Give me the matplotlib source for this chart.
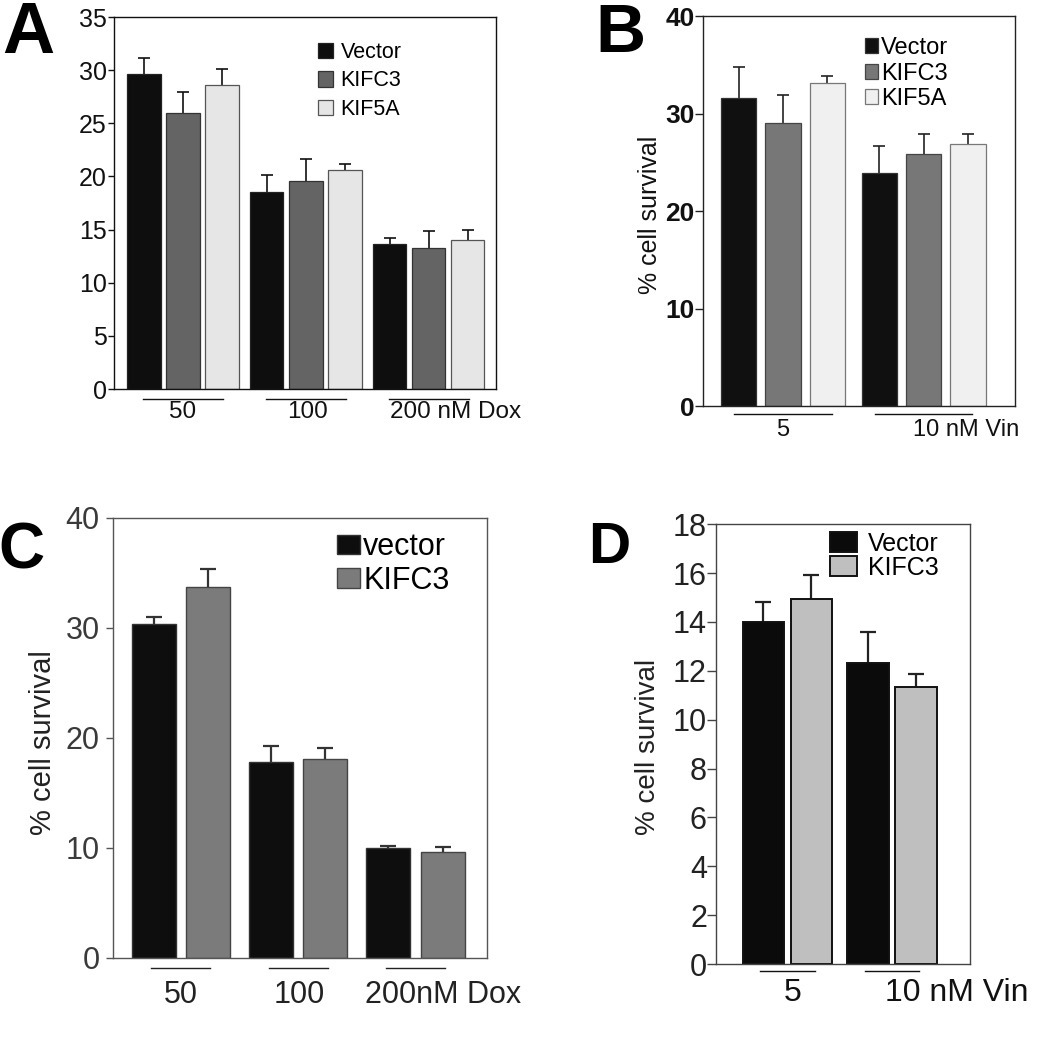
"""
Four-panel cell survival bar chart (Dox / Vin, Vector vs KIFC3 vs KIF5A).
Saves out.png.
"""

import numpy as np
import matplotlib
matplotlib.use("Agg")
import matplotlib.pyplot as plt

plt.rcParams["font.family"] = ["Liberation Sans", "DejaVu Sans"]

# --- Panel A: Dox, three constructs ---
a_groups = ["50", "100", "200 nM Dox"]
a_labels = ["Vector", "KIFC3", "KIF5A"]
a_vector = [29.6, 18.55, 13.65]
a_vector_err = [1.5, 1.55, 0.57]
a_kifc3 = [25.95, 19.55, 13.3]
a_kifc3_err = [2.0, 2.05, 1.56]
a_kif5a = [28.6, 20.6, 14.0]
a_kif5a_err = [1.55, 0.56, 1.0]
a_yticks = [0, 5, 10, 15, 20, 25, 30, 35]

# --- Panel B: Vin, three constructs ---
b_groups = ["5", "10 nM Vin"]
b_labels = ["Vector", "KIFC3", "KIF5A"]
b_vector = [31.6, 23.9]
b_vector_err = [3.2, 2.75]
b_kifc3 = [29.0, 25.9]
b_kifc3_err = [2.95, 2.0]
b_kif5a = [33.1, 26.9]
b_kif5a_err = [0.72, 1.0]
b_yticks = [0, 10, 20, 30, 40]

# --- Panel C: Dox, two constructs ---
c_groups = ["50", "100", "200nM Dox"]
c_labels = ["vector", "KIFC3"]
c_vector = [30.3, 17.8, 9.94]
c_vector_err = [0.65, 1.48, 0.24]
c_kifc3 = [33.7, 18.03, 9.58]
c_kifc3_err = [1.6, 1.03, 0.51]
c_yticks = [0, 10, 20, 30, 40]

# --- Panel D: Vin, two constructs ---
d_groups = ["5", "10 nM Vin"]
d_labels = ["Vector", "KIFC3"]
d_vector = [14.0, 12.33]
d_vector_err = [0.82, 1.27]
d_kifc3 = [14.95, 11.32]
d_kifc3_err = [0.98, 0.56]
d_yticks = [0, 2, 4, 6, 8, 10, 12, 14, 16, 18]


def draw_bars(ax, vals_list, errs_list, labels, colors, edges, bar_lw,
              bar_pitch, group_pitch, err_color, err_lw, cap):
    for i, (vals, errs) in enumerate(zip(vals_list, errs_list)):
        vals = np.asarray(vals)
        errs = np.asarray(errs)
        x = np.arange(len(vals)) * group_pitch + i * bar_pitch + 0.5
        ax.vlines(x, vals, vals + errs, color=err_color, lw=err_lw, zorder=1)
        ax.plot(x, vals + errs, ls="none", marker="_", ms=cap, mew=err_lw,
                color=err_color, zorder=1)
        ax.bar(x, vals, width=1.0, color=colors[i], edgecolor=edges[i],
               linewidth=bar_lw, label=labels[i], zorder=2)


def group_axis(ax, groups, n_series, bar_pitch, group_pitch, half, line_y,
               text_y, dx, ha, fs, color):
    trans = ax.get_xaxis_transform()
    centers = np.arange(len(groups)) * group_pitch + (n_series - 1) * bar_pitch / 2 + 0.5
    for c, g, d, h in zip(centers, groups, dx, ha):
        ax.plot([c - half, c + half], [line_y, line_y], color=color, lw=1.0,
                transform=trans, clip_on=False)
        ax.text(c + d, text_y, g, ha=h, va="center", fontsize=fs,
                color=color, transform=trans)


def style_axes(ax, yticks, xlim, spine_color, tick_len, pad, fs, tick_color,
               weight="normal"):
    ax.set_xlim(*xlim)
    ax.set_ylim(yticks[0], yticks[-1])
    ax.set_yticks(yticks)
    ax.set_xticks([])
    for s in ax.spines.values():
        s.set_color(spine_color)
        s.set_linewidth(1.0)
    ax.tick_params(axis="y", direction="out", length=tick_len, width=1.0,
                   pad=pad, labelsize=fs, colors=spine_color,
                   labelcolor=tick_color)
    for t in ax.get_yticklabels():
        t.set_fontweight(weight)


fig = plt.figure(figsize=(10.39, 10.5), dpi=100)

# ======================= A =======================
axA = fig.add_axes([0.1097, 0.6295, 0.3677, 0.3543])
draw_bars(axA, [a_vector, a_kifc3, a_kif5a],
          [a_vector_err, a_kifc3_err, a_kif5a_err], a_labels,
          ["#0e0e0e", "#646464", "#e6e6e6"], ["#222222", "#333333", "#555555"],
          0.9, 1.17, 3.68, "#111111", 1.2, 9)
style_axes(axA, a_yticks, (-0.4, 11.05), "#111111", 4.3, 1, 18, "#111111")
group_axis(axA, a_groups, 3, 1.17, 3.68, 1.2, -0.027, -0.062,
           [0, 0.05, -1.16], ["center", "center", "left"], 17.5, "#111111")
axA.legend(loc="upper left", bbox_to_anchor=(0.534, 0.933), frameon=False,
           fontsize=15.5, handlelength=0.72, handleheight=0.75,
           handletextpad=0.33, labelspacing=0.35, borderpad=0,
           borderaxespad=0)

# ======================= B =======================
axB = fig.add_axes([0.6763, 0.6133, 0.3006, 0.3714])
draw_bars(axB, [b_vector, b_kifc3, b_kif5a],
          [b_vector_err, b_kifc3_err, b_kif5a_err], b_labels,
          ["#101010", "#777777", "#f0f0f0"], ["#333333", "#444444", "#777777"],
          0.9, 1.255, 3.98, "#222222", 1.2, 9)
style_axes(axB, b_yticks, (-0.52, 8.32), "#222222", 5.8, 0, 19, "#111111",
           weight="bold")
group_axis(axB, b_groups, 3, 1.255, 3.98, 1.38, -0.021, -0.062,
           [0, -0.3], ["center", "left"], 17, "#111111")
axB.text(-0.169, 0.49, "% cell survival", rotation=90, ha="center",
         va="center", fontsize=18, color="#111111", transform=axB.transAxes)
axB.legend(loc="upper left", bbox_to_anchor=(0.52, 0.946), frameon=False,
           fontsize=17, handlelength=0.55, handleheight=0.6,
           handletextpad=0.12, labelspacing=0.15, borderpad=0,
           borderaxespad=0)

# ======================= C =======================
axC = fig.add_axes([0.1085, 0.0879, 0.3602, 0.4191])
draw_bars(axC, [c_vector, c_kifc3], [c_vector_err, c_kifc3_err], c_labels,
          ["#0e0e0e", "#7b7b7b"], ["#333333", "#444444"],
          1.0, 1.235, 2.67, "#333333", 1.6, 12)
style_axes(axC, c_yticks, (-0.43, 8.08), "#555555", 5.0, 4.3, 22, "#3a3a3a")
group_axis(axC, c_groups, 2, 1.235, 2.67, 0.67, -0.024, -0.085,
           [0, 0.02, -1.16], ["center", "center", "left"], 22, "#222222")
axC.text(-0.185, 0.488, "% cell survival", rotation=90, ha="center",
         va="center", fontsize=21, color="#222222", transform=axC.transAxes)
axC.legend(loc="upper left", bbox_to_anchor=(0.60, 0.967), frameon=False,
           fontsize=22, handlelength=0.75, handleheight=0.62,
           handletextpad=0.1, labelspacing=0.12, borderpad=0,
           borderaxespad=0)

# ======================= D =======================
axD = fig.add_axes([0.6891, 0.0819, 0.2445, 0.4188])
draw_bars(axD, [d_vector, d_kifc3], [d_vector_err, d_kifc3_err], d_labels,
          ["#0b0b0b", "#bfbfbf"], ["#111111", "#111111"],
          1.4, 1.16, 2.53, "#222222", 1.6, 12)
style_axes(axD, d_yticks, (-0.645, 5.5), "#444444", 6.5, 0, 22, "#222222")
group_axis(axD, d_groups, 2, 1.16, 2.53, 0.66, -0.016, -0.066,
           [0.12, -0.17], ["center", "left"], 23, "#111111")
axD.text(-0.266, 0.494, "% cell survival", rotation=90, ha="center",
         va="center", fontsize=20, color="#222222", transform=axD.transAxes)
axD.legend(loc="upper left", bbox_to_anchor=(0.449, 0.983), frameon=False,
           fontsize=18, handlelength=1.08, handleheight=0.8,
           handletextpad=0.45, labelspacing=0.0, borderpad=0,
           borderaxespad=0)

# ---- panel letters ----
for x, y, s, fs in [(0.002, 0.9495, "A", 52), (0.5727, 0.9505, "B", 50),
                    (-0.002, 0.4587, "C", 46), (0.566, 0.4635, "D", 42)]:
    fig.text(x, y, s, fontsize=fs, fontweight="bold", va="baseline",
             ha="left", color="black")

fig.savefig("out.png", dpi=100)
